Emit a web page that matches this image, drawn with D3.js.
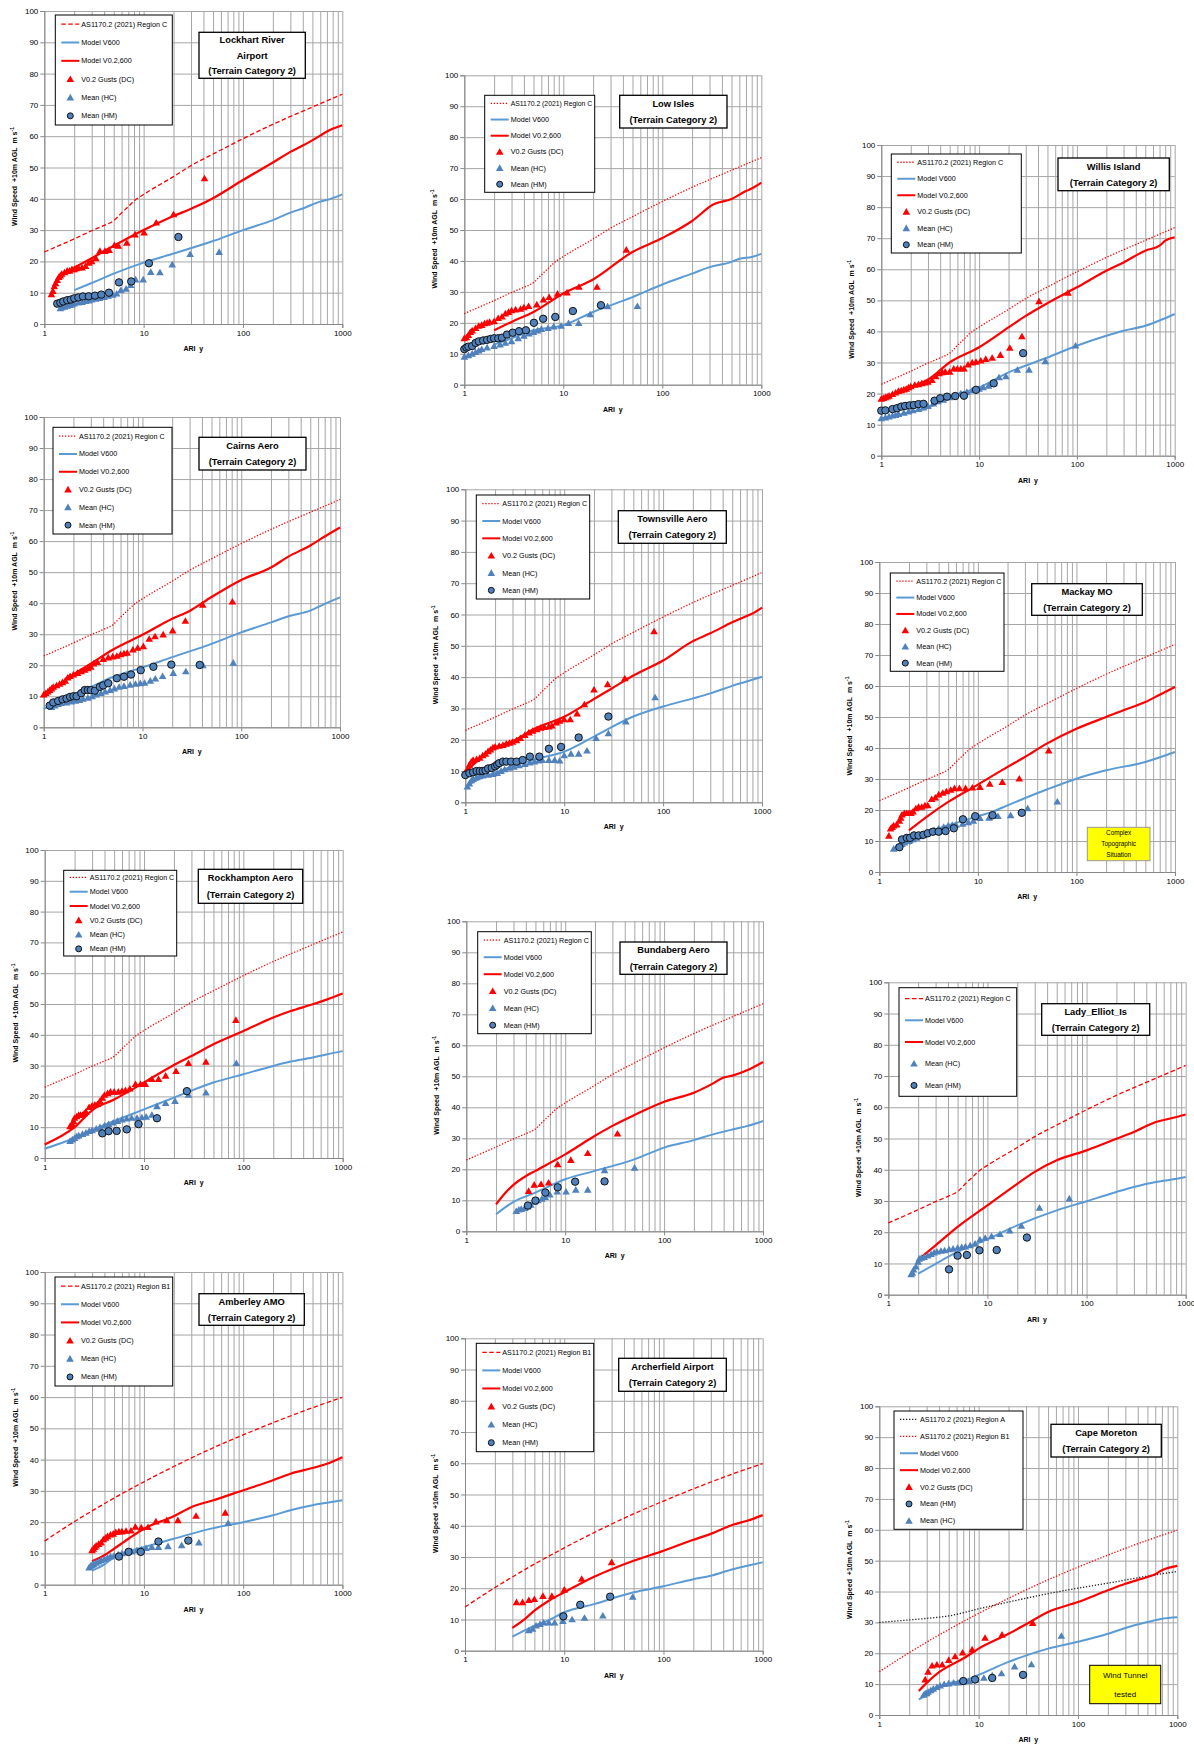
<!DOCTYPE html>
<html><head><meta charset="utf-8">
<script src="https://cdn.jsdelivr.net/npm/d3@7"></script>
<style>
body{margin:0;background:#fff}
svg{display:block}
text{font-family:"Liberation Sans",Arial,sans-serif;fill:#000}
</style>
</head><body>
<svg id="c" width="1194" height="1744"></svg>
<script>
// ---------- Standard curves (AS1170.2 2021) [ARI, m/s] ----------
const regionC  = [[1,23],[2,27.2],[3,29.8],[4,31.5],[5,33],[6,35.5],[7,37.5],[8,39.3],[10,41.4],[20,47.1],[30,50.6],[50,54.3],[100,59.2],[200,63.8],[500,69.3],[1000,73.4]];
const regionB1 = [[1,14],[2,20.2],[3,23.6],[5,27.7],[10,32.9],[20,37.8],[50,43.8],[100,47.9],[200,51.8],[500,56.6],[1000,59.9]];
const regionA  = [[1,30],[2,30.8],[3,31.3],[5,32.1],[10,34.4],[20,36.6],[50,39.3],[100,41.1],[200,42.7],[500,45],[1000,46.5]];

// ---------- Lockhart River Airport ----------
const lockV02 = [[2,18],[3,21],[5,25],[7,27.5],[10,30],[20,34.5],[30,36.8],[50,40.2],[100,46],[200,51.6],[300,55],[400,57],[600,60.2],[700,61.5],[1000,63.5]];
const lockV600 = [[2,10.8],[3,13.1],[5,16.1],[10,19.6],[20,22.5],[50,26.5],[100,30],[200,33.2],[300,35.6],[400,36.9],[600,39.1],[700,39.6],[1000,41.4]];
const lockGust = [[1.18,9.5],[1.22,10.5],[1.26,12],[1.3,13],[1.35,14],[1.4,15],[1.45,15.5],[1.5,16],[1.6,16.5],[1.7,17],[1.8,17],[1.9,17.5],[2.0,17.5],[2.1,17.8],[2.2,18],[2.4,18],[2.6,18.5],[2.8,19.5],[3.0,20],[3.3,21],[3.63,23.3],[4.08,23.3],[4.5,23.6],[5.08,25.2],[5.56,25],[6.77,25.9],[8.2,28.6],[10.1,29.2],[13.4,32.4],[20,35],[41,46.5]];
const lockHC = [[1.45,5],[1.5,5.3],[1.6,5.5],[1.7,5.8],[1.8,6],[1.9,6.2],[2,6.5],[2.2,6.8],[2.4,7],[2.6,7.3],[2.8,7.5],[3,7.8],[3.3,8],[3.6,8.3],[4,8.6],[4.4,9],[4.9,9.3],[5.35,9.7],[5.9,10.8],[6.65,11.2],[7.4,12.4],[8.3,14.2],[9.9,14.2],[11.8,16.6],[14.6,16.5],[19.4,19],[29.4,22.3],[57.6,23]];
const lockHM = [[1.35,6.5],[1.45,6.8],[1.55,7.2],[1.7,7.6],[1.85,7.8],[2,8.2],[2.2,8.5],[2.45,8.8],[2.8,8.85],[3.24,9.06],[3.75,9.4],[4.48,10],[5.65,13.3],[7.5,13.6],[11.3,19.4],[22.4,27.8]];

// ---------- Low Isles ----------
const lowV02 = [[2,17.6],[3,20.3],[5,23.5],[10,29.5],[20,34],[50,42.9],[100,47.4],[200,52.9],[330,58.3],[500,60],[700,62.6],[800,63.4],[1000,65.3]];
const lowV600 = [[2,13],[3,15],[5,17.6],[10,19.2],[20,23.5],[50,28.3],[100,32.4],[200,35.9],[300,38],[500,39.7],[600,40.7],[800,41.3],[1000,42.3]];
const lowGust = [[1,15],[1.05,15.3],[1.1,16],[1.15,17],[1.2,17.5],[1.3,18.3],[1.4,19],[1.5,19.3],[1.6,19.8],[1.7,20],[1.8,20.3],[2,20.5],[2.2,21.5],[2.4,22],[2.6,23],[2.8,23.5],[3,24],[3.3,24.3],[3.7,24.5],[4.0,25],[4.46,25.4],[5.4,25.9],[6.3,27.5],[7.2,28.3],[8.75,29.4],[10.9,29.8],[14.4,31.6],[21.9,31.6],[43.3,43.6]];
const lowHC = [[1,9],[1.1,9.5],[1.2,10],[1.3,10.5],[1.4,11],[1.5,11.5],[1.7,12],[2,12.5],[2.3,13],[2.6,13.5],[3,14],[3.5,15],[4,15.8],[4.5,16.5],[5,17],[5.5,17.5],[6,18],[7,18.3],[8,18.8],[9.5,19],[11.3,19.9],[14.3,19.9],[18.7,22.7],[28,25.3],[56,25.4]];
const lowHM = [[1,11.5],[1.05,12],[1.1,12.3],[1.2,12.5],[1.3,13.5],[1.4,14],[1.55,14.3],[1.7,14.5],[1.85,14.8],[2.0,15],[2.2,15],[2.4,15.2],[2.7,16.2],[3.08,16.8],[3.57,17.3],[4.19,17.6],[5.05,20],[6.26,21.3],[8.3,21.9],[12.5,23.8],[24,25.7]];

// ---------- Willis Island ----------
const wilV02 = [[1,18.5],[2,22],[3,24.5],[5,30],[10,34.9],[20,41.3],[30,45],[50,49.1],[100,54.2],[200,59.5],[300,62.2],[500,66],[700,67.6],[800,69.2],[1000,70.3]];
const wilV600 = [[1,12],[2,14],[3,15.5],[5,19],[10,22],[20,26.8],[50,31.6],[100,35.4],[200,38.6],[300,40.2],[500,41.8],[700,43.5],[1000,45.6]];
const wilGust = [[1,18.3],[1.05,18.5],[1.1,18.8],[1.15,19],[1.2,19.3],[1.3,19.8],[1.4,20.3],[1.5,20.8],[1.6,21],[1.7,21.3],[1.8,21.5],[1.9,22],[2,22.3],[2.2,22.8],[2.4,23],[2.6,23.3],[2.8,23.5],[3,23.8],[3.3,24.3],[3.6,25.5],[3.9,26.5],[4.2,26.8],[4.5,27],[5,27],[5.5,28],[6,28],[6.5,28],[7,28],[7.7,29.3],[8.5,30],[9.3,30.2],[10.4,30.6],[11.7,31.1],[13.6,31.5],[16.5,32.4],[20.6,34.7],[27.4,38.4],[41,49.7],[81,52.4]];
const wilHC = [[1,12],[1.1,12.3],[1.2,12.6],[1.3,12.9],[1.4,13.1],[1.5,13.4],[1.7,13.8],[1.9,14.2],[2.1,14.6],[2.4,15],[2.7,15.5],[3,16],[3.4,16.8],[3.8,17.5],[4.3,18],[5,18.8],[5.7,19.5],[6.5,20],[7.5,20.5],[8.5,21],[10,21.5],[11,22],[12.5,22.5],[14.2,23.3],[16,25.2],[18.8,25.5],[24.6,27.6],[32.4,27.6],[47.6,30.4],[97,35.4]];
const wilHM = [[1,14.5],[1.1,14.6],[1.3,15],[1.45,15.3],[1.6,15.8],[1.75,16],[1.95,16.2],[2.15,16.3],[2.4,16.6],[2.7,16.7],[3.5,17.7],[4,18.5],[4.7,19],[5.7,19.2],[7,19.3],[9.3,21.2],[14.1,23.3],[28.2,33]];

// ---------- Cairns Aero ----------
const caiV02 = [[1,10.5],[1.5,14],[2,17],[3,20.5],[5,25],[10,29.8],[20,35],[30,37.5],[50,42],[100,47.5],[200,51.5],[300,55],[500,58.6],[700,61.5],[1000,64.4]];
const caiV600 = [[1,5.9],[2,10.5],[3,13],[5,16.2],[10,19.3],[20,22.6],[50,26.9],[100,30.6],[200,33.8],[300,35.8],[500,37.6],[700,39.8],[1000,41.9]];
const caiGust = [[1,10.5],[1.05,11],[1.1,11.5],[1.15,12],[1.2,12.5],[1.25,13],[1.35,13.5],[1.45,14],[1.55,14.5],[1.65,15],[1.75,16],[1.85,16.5],[2,17],[2.2,17.5],[2.4,18],[2.6,18.5],[2.8,19],[3,19.5],[3.2,20.5],[3.5,21],[4,22],[4.5,22.5],[5,22.8],[5.5,23],[6,23.5],[6.5,23.8],[7,24],[8,25],[8.95,25.6],[10.2,26.1],[11.7,28.5],[13.4,29.3],[16.2,29.9],[20.2,31.2],[27.2,34.3],[40.7,39.5],[81.4,40.5]];
const caiHC = [[1.2,6.5],[1.3,7],[1.4,7.5],[1.5,7.8],[1.7,8],[1.9,8.3],[2.1,8.5],[2.3,8.8],[2.5,9.2],[2.8,9.5],[3.1,10],[3.4,10.5],[3.8,11],[4.2,11.5],[4.7,12],[5.2,12.5],[5.8,13],[6.5,13.3],[7.5,13.7],[8.5,14],[9.5,14.2],[10.5,14.3],[12,15],[13.5,15.7],[16,16.5],[20.5,17.5],[27.5,18],[41,20],[83,20.8]];
const caiHM = [[1.15,7],[1.25,8],[1.4,8.5],[1.55,9],[1.7,9.3],[1.85,9.8],[2,10],[2.15,10],[2.4,11],[2.6,12],[2.8,12],[3,12],[3.3,11.8],[3.7,13],[4,13.5],[4.5,14.2],[5.5,15.8],[6.5,16.3],[7.66,17],[9.6,18.4],[12.9,19.5],[19.6,20.2],[38,20.1]];

// ---------- Townsville Aero ----------
const towV02 = [[1,9.5],[1.2,12],[1.5,14.5],[2,17.5],[3,19.5],[5,23.5],[10,27.3],[20,33],[30,36.3],[50,40.5],[100,45.3],[200,51.5],[300,54],[500,57.5],[700,59.5],[800,60.3],[1000,62.2]];
const towV600 = [[1,5],[1.5,8],[2,9.5],[3,11.5],[5,13.7],[10,16.2],[20,21],[50,27.4],[100,30.6],[200,33.2],[300,34.8],[500,37.2],[700,38.6],[1000,40.1]];
const towGust = [[1,9.5],[1.05,10.5],[1.1,12],[1.15,13],[1.2,13.5],[1.3,13.8],[1.4,14.2],[1.5,15],[1.6,15.5],[1.7,16.3],[1.8,16.8],[1.9,17.5],[2.0,17.8],[2.2,18],[2.4,18.3],[2.6,18.7],[2.8,19],[3.0,19.3],[3.3,19.8],[3.6,20.5],[4.0,21.5],[4.4,22.3],[4.8,22.8],[5.3,23.3],[5.8,23.8],[6.3,24],[7.0,24.2],[7.5,24.5],[8.3,25.5],[9,26],[10,26.5],[11.5,26.5],[13.5,28.3],[16,31.3],[20,36],[27.5,37.7],[41,39.6],[81,54.6]];
const towHC = [[1.05,5],[1.1,6],[1.15,7],[1.2,7.5],[1.3,8],[1.4,8.3],[1.5,8.5],[1.7,8.8],[1.9,9],[2.1,9.3],[2.3,10],[2.5,10.5],[2.8,11],[3.1,11.3],[3.5,11.8],[4,12.2],[4.5,12.7],[5,13],[5.5,13.3],[6,13.5],[7,13.5],[8,13.5],[9,13.3],[10,15],[11.7,15.5],[14,15.5],[17,16.5],[21,20.5],[28,22],[42,25.8],[83,33.5]];
const towHM = [[1,8.7],[1.1,9.3],[1.2,9.6],[1.3,10],[1.4,10],[1.5,10],[1.6,10.2],[1.7,10.8],[1.85,11],[2.0,11.5],[2.1,12],[2.2,12.5],[2.4,13],[2.6,13],[2.9,13],[3.3,13],[3.8,13.5],[4.5,14.6],[5.6,14.6],[7,17.1],[9.3,17.7],[14,20.7],[28,27.4]];

// ---------- Mackay MO ----------
const macV02 = [[2,13.4],[3,17.7],[5,22.6],[10,28.2],[20,33.9],[30,37.1],[50,41.4],[100,46.2],[200,50],[300,52.2],[500,54.8],[700,57.2],[1000,59.7]];
const macV600 = [[2,8.9],[3,12.5],[5,15],[10,18],[14,19.4],[20,21.5],[50,26.6],[100,30.1],[200,32.8],[500,35.5],[1000,38.7]];
const macGust = [[1.25,11.7],[1.3,14],[1.35,14.5],[1.4,15],[1.5,15.3],[1.6,16.5],[1.65,17.5],[1.7,18.5],[1.8,19],[1.9,19],[2.0,19],[2.1,19],[2.2,19.5],[2.35,20.5],[2.5,21],[2.7,21],[2.9,21.5],[3.1,21.5],[3.4,23.5],[3.7,24],[4,25],[4.4,25.5],[4.8,26],[5.3,26.5],[5.8,27],[6.5,27],[7.5,27],[8.8,27.2],[10.5,27.4],[13.2,28.4],[17.7,29],[26.3,30.1],[52.3,39.2]];
const macHC = [[1.4,7.5],[1.5,8],[1.6,8.5],[1.7,9],[1.8,9.5],[2,10],[2.2,10.5],[2.4,11],[2.6,11.5],[2.8,12],[3.0,12.5],[3.3,13],[3.6,13.5],[4,14],[4.5,14.5],[5,15],[5.5,15.2],[6,15.2],[7,15.5],[8,16],[9,16.5],[10.5,17.4],[13,17.5],[16,18],[21.5,18.3],[32,20.5],[64,22.7]];
const macHM = [[1.6,8],[1.7,10.5],[1.9,11],[2.05,11],[2.25,11.8],[2.5,11.8],[2.8,12],[3.1,12.5],[3.5,13],[4,13],[4.7,13.2],[5.7,14.1],[7.05,17],[9.4,18],[14.1,18.3],[27.9,19.1]];

// ---------- Rockhampton Aero ----------
const rocV02 = [[1,4.4],[2,10],[3,15.5],[5,19],[10,24.5],[20,30.2],[30,33.1],[50,36.9],[100,41.2],[200,45.6],[300,47.7],[500,49.9],[700,51.5],[1000,53.4]];
const rocV600 = [[1,3],[2,6.5],[3,9],[5,12],[10,15.8],[20,19.6],[50,24.5],[100,27.2],[200,29.9],[300,31.3],[500,32.6],[700,33.7],[1000,34.7]];
const rocGust = [[1.8,10.3],[1.85,10.5],[1.9,11],[1.95,12],[2.0,13],[2.1,13.5],[2.2,14],[2.3,14],[2.4,14],[2.5,14.5],[2.6,15],[2.8,16.5],[3.0,17],[3.2,17.3],[3.4,17.5],[3.6,18.5],[3.8,19.5],[4.0,20.5],[4.3,21],[4.6,21.5],[5.0,21.5],[5.5,21.5],[6.0,21.8],[6.5,22],[7.2,22.5],[8.2,24],[9.2,24],[10.3,24],[12,25.6],[14,25.6],[16.5,26.7],[21,28.2],[28,30.8],[42,31.2],[84,44.8]];
const rocHC = [[1.8,5.5],[1.9,6],[2.0,6.5],[2.1,7],[2.2,7.3],[2.4,7.8],[2.6,8.2],[2.8,8.7],[3.0,9],[3.3,9.5],[3.6,10],[4,10.5],[4.4,11],[4.9,11.5],[5.4,12],[6,12.5],[6.7,12.8],[7.5,13],[8.5,13],[9.5,13.2],[10.5,13.4],[12,14],[13.5,16.8],[16.5,17.8],[20.5,18.5],[28,20.5],[42,21.2],[85,30.8]];
const rocHM = [[3.8,8],[4.4,8.7],[5.3,8.8],[6.7,9.3],[8.8,11],[13.5,12.9],[27,21.7]];

// ---------- Bundaberg Aero ----------
const bunV02 = [[2,8.7],[2.5,12.5],[3,15],[4,17.8],[5,19.5],[10,24.8],[20,30.8],[30,34],[50,37.5],[100,41.8],[200,44.7],[300,47.4],[400,49.6],[500,50.3],[700,52],[1000,54.6]];
const bunV600 = [[2,5.5],[3,9.5],[5,12.5],[10,16.8],[20,19.5],[50,23.2],[100,27],[200,29.4],[300,31.1],[500,32.9],[700,34],[1000,35.6]];
const bunGust = [[4.27,13],[4.86,15],[5.7,15.2],[6.8,15.7],[8.4,21.6],[11.4,23],[16.9,25.2],[33.8,31.5]];
const bunHC = [[3.2,6.5],[3.4,7],[3.6,7.2],[3.9,7.5],[4.2,8],[4.5,8.5],[4.9,9.5],[5.3,10],[5.8,10.5],[6.3,11],[7,11.8],[8.3,12.8],[10.2,12.8],[12.8,13.4],[16.9,13.4],[25,19.7],[50.3,20.5]];
const bunHM = [[4.2,8.3],[5,9.9],[6.3,12.5],[8.4,14.2],[12.6,16],[25,16.1]];

// ---------- Lady Elliot Island ----------
const ladV02 = [[2.2,12.3],[3,15.8],[5,21.7],[10,28.6],[20,35.5],[30,39.3],[50,43],[100,46.2],[200,49.9],[300,52.1],[500,55.3],[700,56.4],[1000,57.7]];
const ladV600 = [[2,6.7],[3,9.9],[5,13.7],[10,17.8],[20,22.2],[50,27],[100,29.9],[200,32.9],[300,34.5],[500,36.1],[700,36.8],[1000,37.7]];
const ladHC = [[1.7,6.5],[1.75,7],[1.8,8],[1.9,9],[2,10.5],[2.05,11.5],[2.15,11.8],[2.3,12],[2.5,12.5],[2.7,13],[2.9,13.5],[3.1,13.8],[3.4,14],[3.7,14.2],[4.1,14.5],[4.5,14.7],[5,15],[5.5,15.2],[6,15.4],[6.7,15.8],[7.5,16.3],[8.4,17.6],[9.5,18.2],[11,18.7],[13.4,19.4],[16.8,20.5],[22,22],[33.5,27.8],[67,30.8]];
const ladHM = [[4.1,8.1],[5,12.5],[6.2,12.7],[8.3,14.2],[12.4,14.3],[25,18.3]];

// ---------- Amberley AMO ----------
const ambV02 = [[3,7.5],[4,9.4],[5,11.5],[7,14.7],[10,17.9],[20,21.9],[30,24.8],[50,27],[100,30.2],[200,33.4],[300,35.5],[500,37.3],[700,38.7],[1000,40.8]];
const ambV600 = [[3,4.5],[4,6.5],[5,8.8],[10,12],[20,14.7],[50,18.1],[100,20],[200,22.2],[300,23.8],[500,25.4],[700,26.2],[1000,27]];
const ambGust = [[3,11],[3.1,11.5],[3.2,12],[3.3,12.5],[3.5,13],[3.7,13.5],[3.9,14.5],[4.1,15],[4.3,15.5],[4.6,16],[4.9,16.3],[5.2,16.8],[5.6,17],[6,17],[6.6,17.2],[7.4,17.3],[8.2,18.5],[9.4,18.3],[11,18.4],[13.2,20.2],[17,20.6],[22,20.6],[33.5,22],[66,23]];
const ambHC = [[2.8,5.5],[2.9,6],[3,6.3],[3.1,6.6],[3.3,7],[3.5,7.4],[3.7,7.8],[4,8.2],[4.3,8.6],[4.6,9],[5,9.3],[5.5,9.7],[6,10],[6.7,10.3],[7.5,10.7],[8.5,11],[9.5,11.3],[10.5,11.7],[12,12],[14,12],[17.5,12.3],[24,12.6],[35.8,13.5],[70.6,19.7]];
const ambHM = [[5.6,9],[7,10.5],[9.3,10.5],[14,13.8],[28,14.1]];

// ---------- Archerfield Airport ----------
const arcV02 = [[3,7.3],[4,10.1],[5,12.8],[7,16],[10,18.7],[20,23.7],[30,26.1],[50,28.8],[100,32],[200,35.5],[300,37.4],[500,40.3],[700,41.6],[1000,43.4]];
const arcV600 = [[3,4.5],[4,6.5],[5,8],[7,9.8],[10,12.3],[20,14.9],[50,18.7],[100,20.6],[200,22.9],[300,24],[500,26.1],[700,27.2],[1000,28.3]];
const arcGust = [[3.3,15.5],[3.8,15.5],[4.4,16.2],[5,16.5],[6.1,17.5],[7.5,17.5],[10,19.5],[15,23],[30,28.3]];
const arcHC = [[4.4,6.5],[4.8,7],[5.2,8],[5.7,8.5],[6.2,9],[7,9],[8,9],[9.7,9.5],[12,10],[16,10.5],[24.5,11.2],[49,17.2]];
const arcHM = [[9.8,11],[14.5,14.7],[29,17.3]];

// ---------- Cape Moreton ----------
const capV02 = [[2.5,7.8],[3,10.4],[4,13.9],[5,15.8],[7,18.3],[10,21.5],[20,26.3],[30,29.4],[50,33.4],[100,36.6],[200,40.4],[300,42.5],[500,44.7],[600,45.6],[700,46.9],[1000,48.3]];
const capV600 = [[2.5,5],[3,6.5],[4,9],[5,10.3],[7,11],[10,13],[20,17.2],[50,21.5],[100,23.7],[200,26.3],[300,28.2],[500,30.1],[700,31.2],[1000,31.7]];
const capGust = [[2.9,11.5],[3.1,14],[3.4,16],[3.8,16.3],[4.3,16.3],[5,17.8],[5.8,19],[6.9,20.2],[8.6,21.2],[11.6,25],[17.2,26],[35,29.8]];
const capHC = [[2.8,6.5],[2.9,7],[3.0,7],[3.1,7.5],[3.3,8],[3.5,8.5],[3.8,9],[4.1,9.5],[4.5,10],[5,10.2],[5.6,10.5],[6.2,10.5],[7,10.8],[8,11],[9.3,11.5],[11.3,12],[13.7,12.8],[17,13.5],[23,15.7],[34,16.4],[68,25.6]];
const capHM = [[7,11],[9.2,11.5],[13.7,12],[28,13]];

// ---------- tick labels ----------
const yTicks = [0,10,20,30,40,50,60,70,80,90,100];
const xLabelTicks = [1,10,100,1000];

// ---------- styling ----------
const RED = "#ff0000", BLUE = "#5b9bd5", TRIBLUE = "#4f81bd", CIRC = "#4f81bd";
const LBL = {v600:"Model V600", v02:"Model V0.2,600", gust:"V0.2 Gusts (DC)", hc:"Mean (HC)", hm:"Mean (HM)"};
const stdC_dash = {data:regionC, label:"AS1170.2 (2021) Region C", color:RED, dash:"4.5,2.5"};
const stdC_dot  = {data:regionC, label:"AS1170.2 (2021) Region C", color:RED, dash:"1.3,1.7"};
const stdB1_dash= {data:regionB1, label:"AS1170.2 (2021) Region B1", color:RED, dash:"4.5,2.5"};
const stdB1_dot = {data:regionB1, label:"AS1170.2 (2021) Region B1", color:RED, dash:"1.3,1.7"};
const stdA_dot  = {data:regionA, label:"AS1170.2 (2021) Region A", color:"#222", dash:"1.3,1.7"};

const panels = [
 {title:["Lockhart River","Airport","(Terrain Category 2)"], x:44.3,y:11,w:298,h:313, std:[stdC_dash], v600:lockV600, v02:lockV02, gust:lockGust, hc:lockHC, hm:lockHM, leg:[11,4,117,110], tb:[154.7,21.3,106.3,46]},
 {title:["Low Isles","(Terrain Category 2)"], x:464.3,y:75.3,w:297,h:309.4, std:[stdC_dot], v600:lowV600, v02:lowV02, gust:lowGust, hc:lowHC, hm:lowHM, leg:[20.4,20,110,97], tb:[155.4,20,107.3,32.7]},
 {title:["Willis Island","(Terrain Category 2)"], x:881.3,y:145,w:293.4,h:310.7, std:[stdC_dot], v600:wilV600, v02:wilV02, gust:wilGust, hc:wilHC, hm:wilHM, leg:[10,9,130,99], tb:[176.7,13,111.3,32.7]},
 {title:["Cairns Aero","(Terrain Category 2)"], x:43.7,y:417,w:296.3,h:310.3, std:[stdC_dot], v600:caiV600, v02:caiV02, gust:caiGust, hc:caiHC, hm:caiHM, leg:[9.3,10.3,119,106.7], tb:[155.3,20.3,107,32.7]},
 {title:["Townsville Aero","(Terrain Category 2)"], x:465.3,y:489.3,w:296.7,h:313, std:[stdC_dot], v600:towV600, v02:towV02, gust:towGust, hc:towHC, hm:towHM, leg:[11,5.7,113.4,104], tb:[153,21.4,108,32.6]},
 {title:["Mackay MO","(Terrain Category 2)"], x:879.3,y:562,w:295.7,h:310, std:[stdC_dot], v600:macV600, v02:macV02, gust:macGust, hc:macHC, hm:macHM, leg:[11,11,113.7,98.3], tb:[152.4,21.7,110.6,31.6],
   note:{r:[208,265.3,62.7,33.4], lines:["Complex","Topographic","Situation"], fs:6.4, stroke:"#999"}},
 {title:["Rockhampton  Aero","(Terrain Category 2)"], x:44.7,y:850,w:298,h:308, std:[stdC_dot], v600:rocV600, v02:rocV02, gust:rocGust, hc:rocHC, hm:rocHM, leg:[19,20.3,113,85.7], tb:[153.6,19.3,104.4,34]},
 {title:["Bundaberg  Aero","(Terrain Category 2)"], x:466.3,y:921.3,w:296.7,h:310, std:[stdC_dot], v600:bunV600, v02:bunV02, gust:bunGust, hc:bunHC, hm:bunHM, leg:[11.4,10.4,113.6,102], tb:[153.7,20.7,107,32.3]},
 {title:["Lady_Elliot_Is","(Terrain Category 2)"], x:888.3,y:982.3,w:297.4,h:312.4, std:[stdC_dash], v600:ladV600, v02:ladV02, gust:null, hc:ladHC, hm:ladHM, leg:[10.7,5.4,117.7,108.6], tb:[153.4,21.4,108,31.6], order:["s0","v600","v02","hc","hm"]},
 {title:["Amberley AMO","(Terrain Category 2)"], x:44.7,y:1272,w:297.7,h:312.7, std:[stdB1_dash], v600:ambV600, v02:ambV02, gust:ambGust, hc:ambHC, hm:ambHM, leg:[10.3,5,117.7,109], tb:[154.3,21.7,105.3,31.6]},
 {title:["Archerfield Airport","(Terrain Category 2)"], x:465,y:1338.3,w:297.7,h:312.4, std:[stdB1_dash], v600:arcV600, v02:arcV02, gust:arcGust, hc:arcHC, hm:arcHM, leg:[11.3,5,117.4,108.4], tb:[153.7,20,107.6,33]},
 {title:["Cape Moreton","(Terrain Category 2)"], x:879.3,y:1406.3,w:298,h:308.7, std:[stdA_dot, stdB1_dot], v600:capV600, v02:capV02, gust:capGust, hc:capHC, hm:capHM, leg:[14.7,4.7,129,118.3], tb:[171.7,18,110.3,32.7], order:["s0","s1","v600","v02","gust","hm","hc"],
   note:{r:[210.4,259,71,38.4], lines:["Wind Tunnel","tested"], fs:8, stroke:"#000"}}
];

const triPath = "M0,-3.7L3.8,2.9L-3.8,2.9Z";
const svg = d3.select("#c");
svg.append("rect").attr("width",1194).attr("height",1744).attr("fill","#fff");

const xGrid = [];
for (let d = 1; d < 1000; d *= 10) for (let k = 1; k < 10; k++) xGrid.push(d*k);
xGrid.push(1000);

panels.forEach(p => {
  const g = svg.append("g").attr("transform", `translate(${p.x},${p.y})`);
  const x = d3.scaleLog().domain([1,1000]).range([0,p.w]);
  const y = d3.scaleLinear().domain([0,100]).range([p.h,0]);

  // grid via axes
  const gx = g.append("g").attr("transform",`translate(0,${p.h})`)
    .call(d3.axisBottom(x).tickValues(xGrid).tickSize(-p.h).tickFormat(""));
  gx.selectAll(".tick line").attr("stroke","#a6a6a6").attr("stroke-width",1);
  gx.select(".domain").remove();
  const gy = g.append("g").call(d3.axisLeft(y).tickValues(yTicks).tickSize(-p.w).tickFormat(""));
  gy.selectAll(".tick line").attr("stroke","#a6a6a6").attr("stroke-width",1);
  gy.select(".domain").remove();

  // labelled axes
  const ax = g.append("g").attr("transform",`translate(0,${p.h})`)
    .call(d3.axisBottom(x).tickValues(xLabelTicks).tickSize(4).tickPadding(2).tickFormat(d3.format("d")));
  ax.selectAll("text").attr("font-size",8).attr("font-family","Liberation Sans, Arial, sans-serif");
  ax.selectAll("line,path").attr("stroke","#888");
  const ay = g.append("g")
    .call(d3.axisLeft(y).tickValues(yTicks).tickSize(4).tickPadding(2));
  ay.selectAll("text").attr("font-size",8).attr("font-family","Liberation Sans, Arial, sans-serif");
  ay.selectAll("line,path").attr("stroke","#888");

  // axis titles
  g.append("text").attr("x",p.w/2).attr("y",p.h+27).attr("text-anchor","middle")
    .attr("font-size",7).attr("font-weight","bold").text("ARI\u00a0\u00a0y");
  const yt = g.append("text").attr("transform",`translate(-27,${p.h/2+9}) rotate(-90)`)
    .attr("text-anchor","middle").attr("font-size",7).attr("font-weight","bold");
  yt.append("tspan").text("Wind Speed\u00a0\u00a0+10m AGL\u00a0\u00a0m s");
  yt.append("tspan").attr("dy",-3).attr("font-size",5).text("-1");

  const line = d3.line().x(d => x(d[0])).y(d => y(d[1])).curve(d3.curveMonotoneX);

  // standard curves
  p.std.forEach(s => {
    g.append("path").datum(s.data).attr("d",line).attr("fill","none")
      .attr("stroke",s.color).attr("stroke-width",1.3).attr("stroke-dasharray",s.dash);
  });
  // model lines
  g.append("path").datum(p.v600).attr("d",line).attr("fill","none").attr("stroke",BLUE).attr("stroke-width",2);
  g.append("path").datum(p.v02).attr("d",line).attr("fill","none").attr("stroke",RED).attr("stroke-width",2.2);

  // markers
  if (p.gust) g.append("g").selectAll("path").data(p.gust).join("path")
    .attr("d",triPath).attr("transform",d=>`translate(${x(d[0])},${y(d[1])})`).attr("fill",RED);
  g.append("g").selectAll("path").data(p.hc).join("path")
    .attr("d",triPath).attr("transform",d=>`translate(${x(d[0])},${y(d[1])})`).attr("fill",TRIBLUE);
  g.append("g").selectAll("circle").data(p.hm).join("circle")
    .attr("cx",d=>x(d[0])).attr("cy",d=>y(d[1])).attr("r",3.7)
    .attr("fill",CIRC).attr("stroke","#111").attr("stroke-width",1);

  // legend
  const [lx,ly,lw,lh] = p.leg;
  const lg = g.append("g").attr("transform",`translate(${lx},${ly})`);
  lg.append("rect").attr("width",lw).attr("height",lh).attr("fill","#fff").attr("stroke","#000").attr("stroke-width",1);
  const order = p.order || (p.std.length===1 ? ["s0","v600","v02","gust","hc","hm"] : ["s0","s1","v600","v02","gust","hc","hm"]);
  order.forEach((k,i) => {
    const iy = lh*(i+0.5)/order.length;
    let label;
    if (k[0]==="s") {
      const s = p.std[+k[1]]; label = s.label;
      lg.append("line").attr("x1",6).attr("x2",24).attr("y1",iy).attr("y2",iy)
        .attr("stroke",s.color).attr("stroke-width",1.3).attr("stroke-dasharray",s.dash);
    } else if (k==="v600" || k==="v02") {
      label = LBL[k];
      lg.append("line").attr("x1",6).attr("x2",24).attr("y1",iy).attr("y2",iy)
        .attr("stroke",k==="v600"?BLUE:RED).attr("stroke-width",2);
    } else if (k==="gust" || k==="hc") {
      label = LBL[k];
      lg.append("path").attr("d",triPath).attr("transform",`translate(15,${iy})`).attr("fill",k==="gust"?RED:TRIBLUE);
    } else {
      label = LBL[k];
      lg.append("circle").attr("cx",15).attr("cy",iy).attr("r",3).attr("fill",CIRC).attr("stroke","#111").attr("stroke-width",1);
    }
    const t = lg.append("text").attr("x",26).attr("y",iy).attr("dy","0.35em").attr("font-size",7.2).text(label);
    const avail = lw - 26 - 2.5;
    const tl = t.node().getComputedTextLength();
    if (tl > avail) t.attr("textLength",avail).attr("lengthAdjust","spacingAndGlyphs");
  });

  // title box
  const [tx,ty,tw,th] = p.tb;
  const tg = g.append("g").attr("transform",`translate(${tx},${ty})`);
  tg.append("rect").attr("width",tw).attr("height",th).attr("fill","#fff").attr("stroke","#000").attr("stroke-width",1.3);
  p.title.forEach((t,i) => {
    tg.append("text").attr("x",tw/2).attr("y",th*(i+0.5)/p.title.length).attr("dy","0.36em")
      .attr("text-anchor","middle").attr("font-size",9.3).attr("font-weight","bold").text(t);
  });

  // note box
  if (p.note) {
    const [nx,ny,nw,nh] = p.note.r;
    const ng = g.append("g").attr("transform",`translate(${nx},${ny})`);
    ng.append("rect").attr("width",nw).attr("height",nh).attr("fill","#ffff00").attr("stroke",p.note.stroke).attr("stroke-width",1);
    p.note.lines.forEach((t,i) => {
      ng.append("text").attr("x",nw/2).attr("y",nh*(i+0.5)/p.note.lines.length).attr("dy","0.35em")
        .attr("text-anchor","middle").attr("font-size",p.note.fs).text(t);
    });
  }
});
</script>
</body></html>
